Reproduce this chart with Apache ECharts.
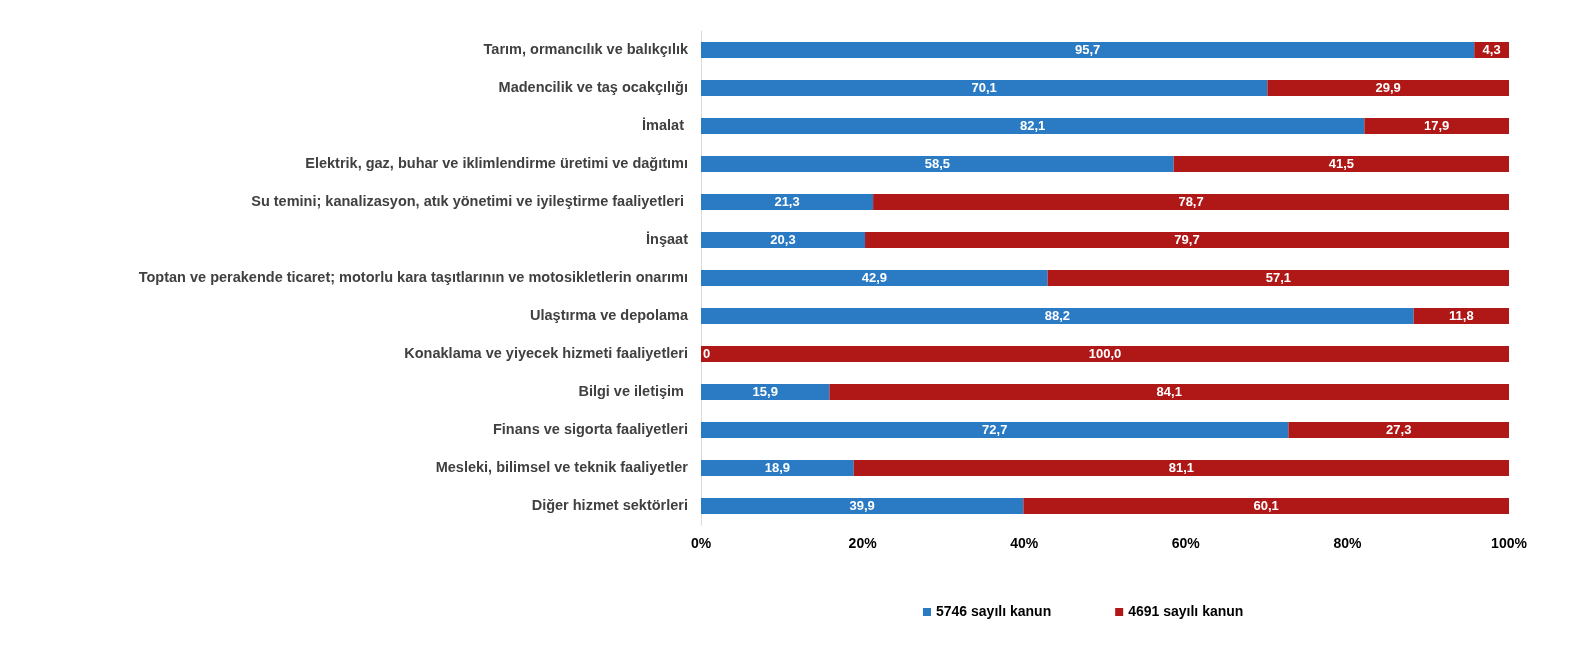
<!DOCTYPE html>
<html><head><meta charset="utf-8">
<script src="https://cdn.jsdelivr.net/npm/echarts@6/dist/echarts.min.js"></script>
<style>html,body{margin:0;padding:0;background:#fff}#c{width:1576px;height:645px}</style>
</head><body><div id="c"></div>
<script>
const categories = [
  "Tarım, ormancılık ve balıkçılık",
  "Madencilik ve taş ocakçılığı",
  "İmalat ",
  "Elektrik, gaz, buhar ve iklimlendirme üretimi ve dağıtımı",
  "Su temini; kanalizasyon, atık yönetimi ve iyileştirme faaliyetleri ",
  "İnşaat",
  "Toptan ve perakende ticaret; motorlu kara taşıtlarının ve motosikletlerin onarımı",
  "Ulaştırma ve depolama",
  "Konaklama ve yiyecek hizmeti faaliyetleri",
  "Bilgi ve iletişim ",
  "Finans ve sigorta faaliyetleri",
  "Mesleki, bilimsel ve teknik faaliyetler",
  "Diğer hizmet sektörleri"
];
const law5746 = [95.7, 70.1, 82.1, 58.5, 21.3, 20.3, 42.9, 88.2, 0, 15.9, 72.7, 18.9, 39.9];
const law4691 = [4.3, 29.9, 17.9, 41.5, 78.7, 79.7, 57.1, 11.8, 100.0, 84.1, 27.3, 81.1, 60.1];
const xTicks = [0, 20, 40, 60, 80, 100];

const fmt = v => v === 0 ? "0" : v.toFixed(1).replace(".", ",");
const FONT = "Liberation Sans, Arial, sans-serif";
const labelBase = {show: true, color: "#fff", fontWeight: "bold", fontSize: 13, fontFamily: FONT};

const chart = echarts.init(document.getElementById("c"));
chart.setOption({
  animation: false,
  grid: {left: 701, right: 67, top: 31, bottom: 120},
  legend: {
    bottom: 21, left: 918, itemGap: 64, itemWidth: 8, itemHeight: 8, icon: "rect",
    textStyle: {color: "#000", fontWeight: "bold", fontSize: 14, fontFamily: FONT},
    data: ["5746 sayılı kanun", "4691 sayılı kanun"]
  },
  xAxis: {
    type: "value", min: 0, max: 100, interval: 20,
    axisLine: {show: false}, axisTick: {show: false}, splitLine: {show: false},
    axisLabel: {formatter: v => xTicks.includes(v) ? v + "%" : "", color: "#000", fontWeight: "bold", fontSize: 14, fontFamily: FONT, margin: 12}
  },
  yAxis: {
    type: "category", data: categories, inverse: true,
    axisLine: {show: true, lineStyle: {color: "#d9d9d9"}}, axisTick: {show: false},
    axisLabel: {color: "#404040", fontWeight: "bold", fontSize: 14.5, fontFamily: FONT, margin: 13}
  },
  series: [
    {
      name: "5746 sayılı kanun", type: "bar", stack: "t", barWidth: 16,
      itemStyle: {color: "#2a7bc3"},
      data: law5746.map(v => v === 0 ? {value: v, label: {position: "insideLeft", offset: [-3, 0]}} : v),
      label: Object.assign({position: "inside", formatter: p => fmt(p.value)}, labelBase)
    },
    {
      name: "4691 sayılı kanun", type: "bar", stack: "t", barWidth: 16,
      itemStyle: {color: "#b01717"},
      data: law4691,
      label: Object.assign({position: "inside", formatter: p => fmt(p.value)}, labelBase)
    }
  ]
});
</script></body></html>
